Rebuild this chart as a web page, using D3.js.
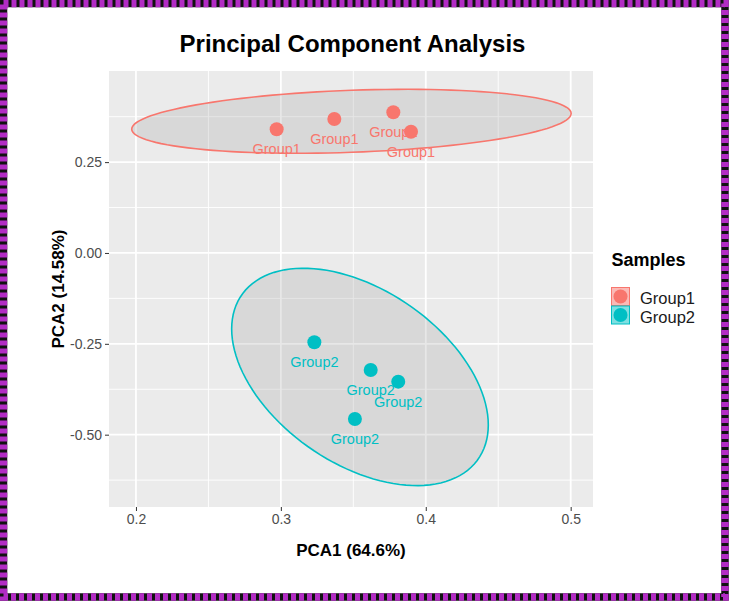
<!DOCTYPE html>
<html>
<head>
<meta charset="utf-8">
<script src="https://cdn.jsdelivr.net/npm/d3@7"></script>
<style>
  html, body { margin: 0; padding: 0; background: #ffffff; }
  svg { display: block; font-family: "Liberation Sans", Arial, Helvetica, sans-serif; }
</style>
</head>
<body>
<svg id="chart" width="729" height="601"></svg>
<script>
// ---------------- data ----------------
const groups = ["Group1", "Group2"];
const pca1Group1 = [0.2971, 0.3369, 0.3776, 0.3898];
const pca2Group1 = [0.3403, 0.3686, 0.3871, 0.3337];
const pca1Group2 = [0.3231, 0.3620, 0.3810, 0.3511];
const pca2Group2 = [-0.2457, -0.3219, -0.3541, -0.4567];
// confidence-ellipse centre and shape (x variance, y variance, covariance), per group
const ellipseCenterX = [0.3487, 0.3546];
const ellipseCenterY = [0.3623, -0.3411];
const ellipseVarX = [0.022990, 0.0078401];
const ellipseVarY = [0.0077484, 0.089426];
const ellipseCovXY = [0.0032705, -0.011691];
const xTicks = [0.2, 0.3, 0.4, 0.5];
const xTickLabels = ["0.2", "0.3", "0.4", "0.5"];
const xMinor = [0.25, 0.35, 0.45];
const yTicks = [0.25, 0.0, -0.25, -0.5];
const yTickLabels = ["0.25", "0.00", "-0.25", "-0.50"];
const yMinor = [0.375, 0.125, -0.125, -0.375, -0.625];
const xDomain = [0.1814, 0.5154];
const yDomain = [-0.699, 0.5007];
const titleText = "Principal Component Analysis";
const xTitle = "PCA1 (64.6%)";
const yTitle = "PCA2 (14.58%)";
const legendTitle = "Samples";

// ---------------- layout / style ----------------
const colors = { Group1: "#F8766D", Group2: "#00BFC4" };
const panel = { left: 109, right: 593, top: 71, bottom: 507 };
const svg = d3.select("#chart");

// decorative dashed frame
svg.append("rect").attr("x", 3.5).attr("y", 3.5).attr("width", 729 - 7.5).attr("height", 601 - 7.5)
  .attr("fill", "none").attr("stroke", "#111").attr("stroke-width", 7.5);
svg.append("rect").attr("x", 3.5).attr("y", 3.5).attr("width", 729 - 7.5).attr("height", 601 - 7.5)
  .attr("fill", "none").attr("stroke", "#B22CC4").attr("stroke-width", 7.5)
  .attr("stroke-dasharray", "5,3");

const x = d3.scaleLinear().domain(xDomain).range([panel.left, panel.right]);
const y = d3.scaleLinear().domain(yDomain).range([panel.bottom, panel.top]);

// panel background
svg.append("rect").attr("x", panel.left).attr("y", panel.top)
  .attr("width", panel.right - panel.left).attr("height", panel.bottom - panel.top)
  .attr("fill", "#EBEBEB");

const grid = svg.append("g");
grid.selectAll(".vminor").data(xMinor).join("line")
  .attr("x1", d => x(d)).attr("x2", d => x(d)).attr("y1", panel.top).attr("y2", panel.bottom)
  .attr("stroke", "#fff").attr("stroke-width", 0.9);
grid.selectAll(".hminor").data(yMinor.filter(v => v > yDomain[0] && v < yDomain[1])).join("line")
  .attr("y1", d => y(d)).attr("y2", d => y(d)).attr("x1", panel.left).attr("x2", panel.right)
  .attr("stroke", "#fff").attr("stroke-width", 0.9);
grid.selectAll(".vmajor").data(xTicks).join("line")
  .attr("x1", d => x(d)).attr("x2", d => x(d)).attr("y1", panel.top).attr("y2", panel.bottom)
  .attr("stroke", "#fff").attr("stroke-width", 1.8);
grid.selectAll(".hmajor").data(yTicks).join("line")
  .attr("y1", d => y(d)).attr("y2", d => y(d)).attr("x1", panel.left).attr("x2", panel.right)
  .attr("stroke", "#fff").attr("stroke-width", 1.8);

// axes
const xAxis = d3.axisBottom(x).tickValues(xTicks).tickFormat((d, i) => xTickLabels[i])
  .tickSizeInner(4).tickSizeOuter(0).tickPadding(3);
const gx = svg.append("g").attr("transform", `translate(0,${panel.bottom})`).call(xAxis);
const yAxis = d3.axisLeft(y).tickValues(yTicks).tickFormat((d, i) => yTickLabels[i])
  .tickSizeInner(4).tickSizeOuter(0).tickPadding(3);
const gy = svg.append("g").attr("transform", `translate(${panel.left},0)`).call(yAxis);
[gx, gy].forEach(g => {
  g.select(".domain").remove();
  g.selectAll(".tick line").attr("stroke", "#333").attr("stroke-width", 1);
  g.selectAll(".tick text").attr("fill", "#4D4D4D").style("font-size", "14px")
    .style("font-family", "'Liberation Sans', Arial, sans-serif");
});

// ellipses
const ellipseLine = d3.line().x(d => x(d[0])).y(d => y(d[1])).curve(d3.curveLinearClosed);
groups.forEach((g, i) => {
  const l11 = Math.sqrt(ellipseVarX[i]);
  const l21 = ellipseCovXY[i] / l11;
  const l22 = Math.sqrt(ellipseVarY[i] - l21 * l21);
  const pts = d3.range(0, 120).map(k => {
    const t = 2 * Math.PI * k / 120;
    return [ellipseCenterX[i] + l11 * Math.cos(t),
            ellipseCenterY[i] + l21 * Math.cos(t) + l22 * Math.sin(t)];
  });
  svg.append("path").attr("d", ellipseLine(pts))
    .attr("fill", "#9E9E9E").attr("fill-opacity", 0.25)
    .attr("stroke", colors[g]).attr("stroke-width", 1.6);
});

// points & labels
const pointData = [];
pca1Group1.forEach((v, i) => pointData.push({ g: "Group1", x: v, y: pca2Group1[i] }));
pca1Group2.forEach((v, i) => pointData.push({ g: "Group2", x: v, y: pca2Group2[i] }));

svg.append("g").selectAll("circle").data(pointData).join("circle")
  .attr("cx", d => x(d.x)).attr("cy", d => y(d.y)).attr("r", 7)
  .attr("fill", d => colors[d.g]);
svg.append("g").selectAll("text").data(pointData).join("text")
  .attr("x", d => x(d.x)).attr("y", d => y(d.y) + 25)
  .attr("text-anchor", "middle").attr("fill", d => colors[d.g])
  .style("font-size", "14.5px").text(d => d.g);

// titles
svg.append("text").attr("x", 352.5).attr("y", 52).attr("text-anchor", "middle")
  .style("font-size", "24px").style("font-weight", "bold").attr("fill", "#000").text(titleText);
svg.append("text").attr("x", (panel.left + panel.right) / 2).attr("y", 556).attr("text-anchor", "middle")
  .style("font-size", "17px").style("font-weight", "bold").attr("fill", "#000").text(xTitle);
svg.append("text").attr("transform", `translate(64,${(panel.top + panel.bottom) / 2}) rotate(-90)`)
  .attr("text-anchor", "middle")
  .style("font-size", "17px").style("font-weight", "bold").attr("fill", "#000").text(yTitle);

// legend
const lg = svg.append("g");
lg.append("text").attr("x", 611.5).attr("y", 266).style("font-size", "18px").style("font-weight", "bold")
  .attr("fill", "#000").text(legendTitle);
groups.forEach((g, i) => {
  const ky = 287.5 + i * 18.5;
  lg.append("rect").attr("x", 611.5).attr("y", ky).attr("width", 18).attr("height", 18)
    .attr("fill", colors[g]).attr("fill-opacity", 0.5).attr("stroke", colors[g]).attr("stroke-width", 1);
  lg.append("circle").attr("cx", 620.5).attr("cy", ky + 9).attr("r", 7).attr("fill", colors[g]);
  lg.append("text").attr("x", 640).attr("y", ky + 16.5).style("font-size", "16.5px")
    .attr("fill", "#1A1A1A").text(g);
});
</script>
</body>
</html>
